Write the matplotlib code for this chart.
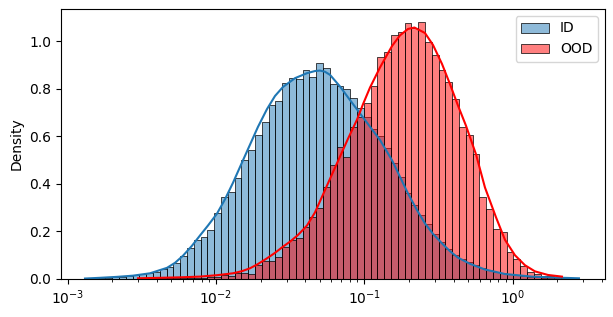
import numpy as np
import matplotlib
matplotlib.use("Agg")
import matplotlib.pyplot as plt
from matplotlib.patches import Patch

# %% data
labels = ["ID", "OOD"]

# common log-spaced bins shared by both groups
bin_lo, bin_hi, n_bins = 1.312e-3, 2.904, 73

id_density = [
    0.002, 0.003, 0.004, 0.005, 0.007, 0.009, 0.012, 0.015, 0.019, 0.025,
    0.030, 0.040, 0.052, 0.068, 0.095, 0.130, 0.165, 0.178, 0.206, 0.276,
    0.346, 0.367, 0.424, 0.500, 0.543, 0.606, 0.660, 0.730, 0.750, 0.824,
    0.845, 0.840, 0.880, 0.851, 0.908, 0.887, 0.820, 0.810, 0.800, 0.760,
    0.720, 0.680, 0.630, 0.600, 0.550, 0.490, 0.430, 0.360, 0.310, 0.270,
    0.230, 0.190, 0.155, 0.125, 0.100, 0.083, 0.070, 0.057, 0.046, 0.037,
    0.030, 0.024, 0.019, 0.015, 0.012, 0.010, 0.008, 0.006, 0.005, 0.004,
    0.003, 0.002, 0.002,
]

ood_density = [
    0, 0, 0, 0, 0, 0, 0, 0.001, 0.002, 0.002,
    0.003, 0.003, 0.004, 0.004, 0.005, 0.005, 0.006, 0.006, 0.007, 0.010,
    0.017, 0.012, 0.027, 0.025, 0.021, 0.059, 0.076, 0.076, 0.091, 0.133,
    0.164, 0.171, 0.220, 0.262, 0.297, 0.388, 0.480, 0.557, 0.512, 0.641,
    0.683, 0.739, 0.810, 0.933, 0.957, 1.027, 1.041, 1.076, 1.055, 1.080,
    0.999, 0.943, 0.880, 0.830, 0.756, 0.638, 0.606, 0.526, 0.344, 0.295,
    0.210, 0.196, 0.112, 0.084, 0.056, 0.028, 0.020, 0.014, 0.013, 0.010,
    0, 0, 0,
]

# kde curves (x, density)
id_kde_x = [
    0.001312, 0.001656, 0.002156, 0.002763, 0.003596, 0.004683, 0.005302, 0.006003,
    0.006902, 0.007812, 0.008845, 0.01017, 0.01151, 0.01304, 0.01499, 0.01697,
    0.01921, 0.02210, 0.02502, 0.02832, 0.03412, 0.04110, 0.04654, 0.05029,
    0.05435, 0.05873, 0.06862, 0.08008, 0.09354, 0.1092, 0.1276, 0.1537,
    0.1740, 0.1970, 0.2265, 0.2564, 0.2903, 0.3339, 0.3780, 0.4279,
    0.5157, 0.6506, 0.8872, 1.349, 1.928, 2.797,
]
id_kde_y = [
    0.002, 0.005, 0.009, 0.014, 0.024, 0.047, 0.068, 0.098,
    0.140, 0.183, 0.225, 0.275, 0.335, 0.405, 0.490, 0.565,
    0.640, 0.715, 0.770, 0.808, 0.845, 0.866, 0.875, 0.877,
    0.872, 0.859, 0.810, 0.753, 0.697, 0.641, 0.585, 0.500,
    0.430, 0.360, 0.290, 0.234, 0.190, 0.150, 0.117, 0.090,
    0.064, 0.040, 0.021, 0.010, 0.006, 0.003,
]

ood_kde_x = [
    0.002986, 0.004200, 0.005730, 0.007812, 0.01017, 0.01304, 0.01499, 0.01697,
    0.01921, 0.02210, 0.02502, 0.02832, 0.03157, 0.03574, 0.04110, 0.04654,
    0.05267, 0.06057, 0.06862, 0.07765, 0.08928, 0.09799, 0.1092, 0.1276,
    0.1537, 0.1740, 0.1970, 0.2179, 0.2564, 0.2903, 0.3339, 0.3780,
    0.4279, 0.4845, 0.5658, 0.6506, 0.7717, 0.8872, 1.036, 1.210,
    1.414, 1.729, 2.148,
]
ood_kde_y = [
    0.003, 0.005, 0.007, 0.010, 0.016, 0.024, 0.033, 0.045,
    0.063, 0.087, 0.110, 0.136, 0.157, 0.185, 0.225, 0.280,
    0.355, 0.440, 0.515, 0.590, 0.670, 0.735, 0.805, 0.890,
    0.980, 1.025, 1.052, 1.058, 1.035, 0.985, 0.905, 0.820,
    0.730, 0.645, 0.525, 0.385, 0.260, 0.165, 0.100, 0.058,
    0.032, 0.017, 0.010,
]

# %% plot
edges = np.logspace(np.log10(bin_lo), np.log10(bin_hi), n_bins + 1)
widths = np.diff(edges)

fig = plt.figure(figsize=(6.13, 3.17), dpi=100)
ax = fig.add_axes([61 / 613, 38 / 317, 544 / 613, 270 / 317])

colors = ["#1f77b4", "red"]
for dens, c in zip([id_density, ood_density], colors):
    ax.bar(edges[:-1], dens, width=widths, align="edge",
           facecolor=matplotlib.colors.to_rgba(c, 0.5),
           edgecolor="black", linewidth=0.5)

ax.plot(id_kde_x, id_kde_y, color=colors[0], lw=1.5)
ax.plot(ood_kde_x, ood_kde_y, color=colors[1], lw=1.5)

ax.set_xscale("log")
ax.set_xlim(9.04e-4, 4.19)
ax.set_ylim(0, 1.136)
ax.set_ylabel("Density")

handles = [Patch(facecolor=matplotlib.colors.to_rgba(c, 0.5), edgecolor="black",
                 linewidth=0.5) for c in colors]
ax.legend(handles, labels, loc="upper right")

fig.savefig("out.png", dpi=100)
